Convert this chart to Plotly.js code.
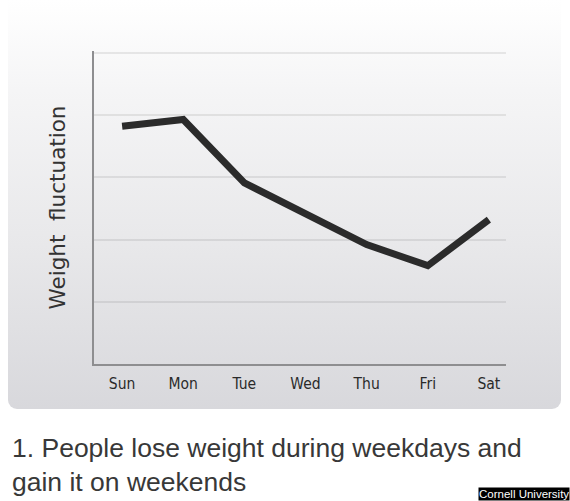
<!DOCTYPE html>
<html>
<head>
<meta charset="utf-8">
<script src="https://cdn.plot.ly/plotly-3.0.1.min.js"></script>
<style>
  html, body { margin: 0; padding: 0; background: #ffffff; }
  #wrap { position: relative; width: 570px; height: 501px; overflow: hidden; }
  #panel { position: absolute; left: 8px; top: 0px; width: 553px; height: 409px;
           border-radius: 0 0 9px 9px;
           background: linear-gradient(to bottom, #ffffff 0%, #f5f5f6 22%, #e8e8ea 60%, #d8d8dc 100%); }
  #chart { position: absolute; left: 0; top: 0; width: 570px; height: 501px; }
</style>
</head>
<body>
<div id="wrap">
  <div id="panel"></div>
  <div id="chart"></div>
</div>
<script>
const days = ["Sun", "Mon", "Tue", "Wed", "Thu", "Fri", "Sat"];
const weight = [3.82, 3.93, 2.91, 2.43, 1.92, 1.58, 2.32];
const yTitle = "Weight\u00a0 fluctuation";
const caption = "1. People lose weight during weekdays and<br>gain it on weekends";
const credit = "Cornell University";

const W = 570, H = 501;
const M = {l: 94, r: 64, t: 51, b: 137};
const pw = W - M.l - M.r, ph = H - M.t - M.b;
const px = x => (x - M.l) / pw;
const py = y => (H - M.b - y) / ph;

const trace = {
  x: days.map((d, i) => i),
  y: weight,
  type: "scatter",
  mode: "lines",
  line: {color: "#2b2b2b", width: 7},
  hoverinfo: "skip"
};

const layout = {
  width: W, height: H,
  margin: M,
  paper_bgcolor: "rgba(0,0,0,0)",
  plot_bgcolor: "rgba(0,0,0,0)",
  showlegend: false,
  xaxis: {
    range: [-0.46, 6.28],
    tickmode: "array",
    tickvals: days.map((d, i) => i),
    ticktext: days,
    showgrid: false,
    zeroline: false,
    showline: true,
    linecolor: "#8e8e90",
    linewidth: 2,
    ticks: "",
    ticklabelstandoff: 4,
    tickfont: {family: "Liberation Sans Narrow, DejaVu Sans Condensed, sans-serif", size: 15.5, color: "#2a2a2a"},
    fixedrange: true
  },
  yaxis: {
    range: [0, 5.03],
    tickvals: [1, 2, 3, 4, 5],
    showticklabels: false,
    showgrid: true,
    gridcolor: "rgba(0,0,0,0.08)",
    gridwidth: 2,
    zeroline: false,
    showline: true,
    linecolor: "#8e8e90",
    linewidth: 2,
    ticks: "",
    title: {text: yTitle, font: {family: "DejaVu Sans, sans-serif", size: 21.5, color: "#333333"}, standoff: 20},
    fixedrange: true
  },
  annotations: [
    {
      text: caption,
      xref: "paper", yref: "paper",
      x: px(10), y: py(431),
      xanchor: "left", yanchor: "top",
      align: "left",
      showarrow: false,
      font: {family: "Liberation Sans, Arial, sans-serif", size: 26.5, color: "#383838"}
    },
    {
      text: credit,
      xref: "paper", yref: "paper",
      x: px(570), y: py(501),
      xanchor: "right", yanchor: "bottom",
      showarrow: false,
      bgcolor: "#000000",
      borderpad: 0,
      font: {family: "Liberation Sans, Arial, sans-serif", size: 11.5, color: "#ffffff"}
    }
  ]
};

Plotly.newPlot("chart", [trace], layout, {displayModeBar: false, staticPlot: true});
</script>
</body>
</html>
